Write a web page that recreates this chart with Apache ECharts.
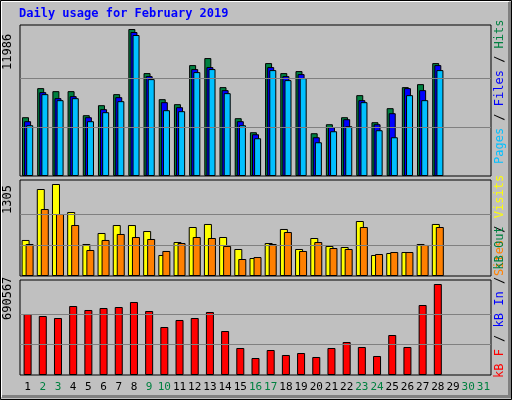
<!DOCTYPE html>
<html><head><meta charset="utf-8">
<script src="https://cdn.jsdelivr.net/npm/echarts@6/dist/echarts.min.js"></script>
<style>html,body{margin:0;padding:0;background:#c0c0c0}#c{width:512px;height:400px}</style>
</head><body><div id="c"></div>
<script>
// days of February 2019 on a 31-day axis
var days = [];
for (var i = 1; i <= 31; i++) days.push(String(i));
var weekend = [2,3,9,10,16,17,23,24,30,31];

var hits  = [4794,7164,6919,6919,4958,5775,6674,11986,8390,6265,5857,9044,9616,7246,4713,3569,9207,8390,8554,3487,4222,4794,6592,4386,5530,7246,7491,9207];
var files = [4468,6837,6347,6511,4794,5448,6429,11741,8145,6020,5612,8717,8880,7001,4468,3405,8880,8145,8308,3160,3977,4631,6184,4222,5121,7164,7001,9044];
var pages = [4141,6674,6184,6347,4468,5203,6102,11496,7900,5366,5285,8472,8717,6756,4141,3078,8635,7818,7981,2751,3650,4059,6020,3732,3160,6592,6184,8635];
var visits = [511,1234,1305,908,454,610,723,723,638,298,482,695,738,553,383,255,468,667,383,539,426,411,780,298,326,340,454,738];
var sites  = [454,950,879,723,369,511,596,553,525,355,468,553,539,426,241,269,454,624,355,482,397,383,695,312,340,340,440,695];
var kbytes = [462900,447700,432500,523600,493300,508400,516000,554000,485700,364200,417400,432500,478100,333900,204900,129000,189700,151800,166900,136600,204900,250400,212500,144200,303500,212500,531200,690567];

var hitsMax = Math.max.apply(null, hits);
var visMax = Math.max.apply(null, visits);
var kbMax = Math.max.apply(null, kbytes);
var font = 'DejaVu Sans Mono';

function guides(m) {
  return {silent: true, symbol: 'none', label: {show: false},
    lineStyle: {color: '#808080', type: 'solid', width: 1},
    data: [{yAxis: m / 3}, {yAxis: m * 2 / 3}]};
}
function bar(name, data, color, xi, w, gap, extra) {
  var s = {name: name, type: 'bar', data: data, xAxisIndex: xi, yAxisIndex: xi,
    barWidth: w, barGap: gap, animation: false,
    itemStyle: {color: color, borderColor: '#000', borderWidth: 1}};
  if (extra) s.markLine = extra;
  return s;
}
function xa(gi, show) {
  return {type: 'category', data: days, gridIndex: gi, boundaryGap: true,
    axisLine: {show: false}, axisTick: {show: false},
    axisLabel: show ? {show: true, interval: 0, margin: 7, fontFamily: font, fontSize: 11,
      color: function (v) { return weekend.indexOf(+v) >= 0 ? '#008040' : '#000'; }} : {show: false}};
}
function ya(gi, m) {
  return {type: 'value', gridIndex: gi, min: 0, max: m, axisLine: {show: false},
    axisLabel: {show: false}, splitLine: {show: false}, axisTick: {show: false}};
}
var grid = {show: true, backgroundColor: '#c0c0c0', borderColor: '#000', borderWidth: 1};

var option = {
  backgroundColor: '#c0c0c0',
  grid: [
    Object.assign({left: 20, right: 21, top: 25, height: 151}, grid),
    Object.assign({left: 20, right: 21, top: 180, height: 96}, grid),
    Object.assign({left: 20, right: 21, top: 280, height: 95}, grid)
  ],
  xAxis: [xa(0, false), xa(1, false), xa(2, true)],
  yAxis: [ya(0, hitsMax * 151 / 147), ya(1, visMax * 96 / 92), ya(2, kbMax * 95 / 91)],
  series: [
    bar('Hits', hits, '#008040', 0, 7, '-70%', guides(hitsMax)),
    bar('Files', files, '#0000ff', 0, 7, '-70%'),
    bar('Pages', pages, '#00c0ff', 0, 7, '-70%'),
    bar('Visits', visits, '#ffff00', 1, 8, '-50%', guides(visMax)),
    bar('Sites', sites, '#ff8000', 1, 8, '-50%'),
    bar('kB F', kbytes, '#ff0000', 2, 8, '0%', guides(kbMax))
  ],
  graphic: [
    {type: 'rect', shape: {x: 0.5, y: 0.5, width: 511, height: 399}, style: {fill: 'none', stroke: '#000', lineWidth: 1}},
    {type: 'polyline', shape: {points: [[1.5, 397], [1.5, 1.5], [509, 1.5]]}, style: {stroke: '#fff', lineWidth: 1}},
    {type: 'polyline', shape: {points: [[2, 396.5], [509.5, 396.5], [509.5, 2]]}, style: {stroke: '#808080', lineWidth: 3}},
    {type: 'text', left: 19, top: 8, style: {text: 'Daily usage for February 2019', fill: '#0000ff', font: 'bold 12px ' + font}},
    {type: 'text', x: 8, y: 70, rotation: Math.PI / 2, style: {text: String(hitsMax), fill: '#000', font: '12px ' + font, align: 'left', verticalAlign: 'middle'}},
    {type: 'text', x: 8, y: 214, rotation: Math.PI / 2, style: {text: String(visMax), fill: '#000', font: '12px ' + font, align: 'left', verticalAlign: 'middle'}},
    {type: 'text', x: 8, y: 320, rotation: Math.PI / 2, style: {text: String(kbMax), fill: '#000', font: '12px ' + font, align: 'left', verticalAlign: 'middle'}},
    {type: 'text', x: 500, y: 164, rotation: Math.PI / 2, style: {
      text: '{p|Pages}{w| / }{f|Files}{w| / }{h|Hits}', font: '12px ' + font, verticalAlign: 'middle',
      rich: {p: {fill: '#00c0ff'}, f: {fill: '#0000ff'}, h: {fill: '#008040'}, w: {fill: '#000'}}}},
    {type: 'text', x: 500, y: 276, rotation: Math.PI / 2, style: {
      text: '{s|Sites}{w| / }{v|Visits}', font: '12px ' + font, verticalAlign: 'middle',
      rich: {s: {fill: '#ff8000'}, v: {fill: '#ffff00'}, w: {fill: '#000'}}}},
    {type: 'text', x: 500, y: 378, rotation: Math.PI / 2, style: {
      text: '{r|kB F}{w| / }{b|kB In}{w| / }{g|kB Out}', font: '12px ' + font, verticalAlign: 'middle',
      rich: {r: {fill: '#ff0000'}, b: {fill: '#0000ff'}, g: {fill: '#008040'}, w: {fill: '#000'}}}}
  ]
};
echarts.init(document.getElementById('c')).setOption(option);
</script>
</body></html>
